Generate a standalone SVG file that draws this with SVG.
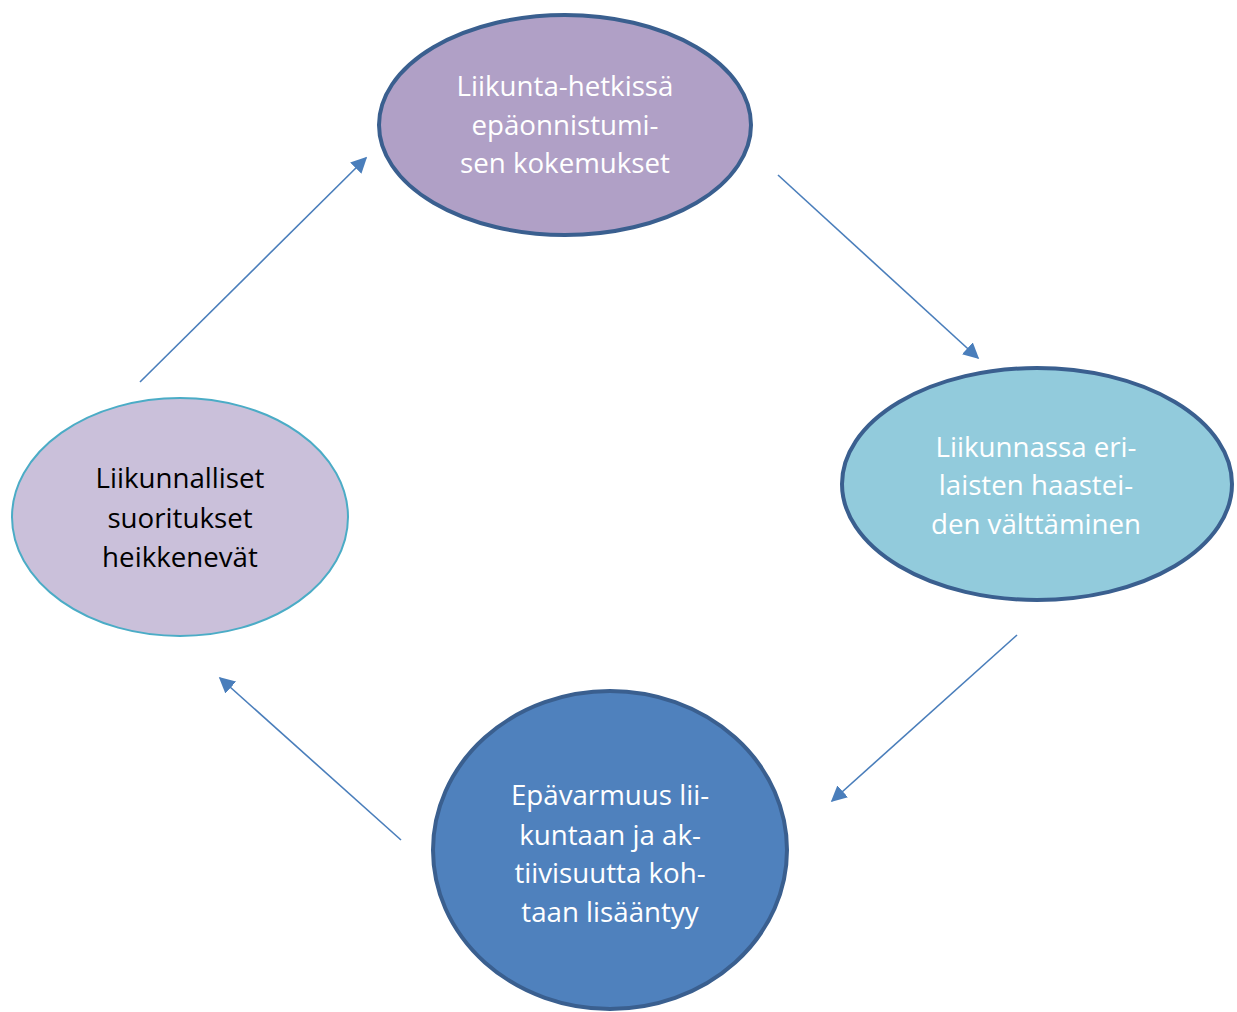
<svg xmlns="http://www.w3.org/2000/svg" width="1237" height="1012" viewBox="0 0 1237 1012">
<defs>
<style>
.lbl{font-family:"Open Sans","Noto Sans",sans-serif;font-size:27.7px;text-anchor:middle}
.w{fill:#ffffff}
.k{fill:#000000}
.con{stroke:#4A7EBB;stroke-width:1.6;fill:none}
</style>
<marker id="ah2" viewBox="0 0 10 10" refX="9" refY="5" markerWidth="16" markerHeight="16" markerUnits="userSpaceOnUse" orient="auto">
<path d="M0,0 L10,5 L0,10 z" fill="#4A7EBB"/>
</marker>
</defs>
<rect width="1237" height="1012" fill="#ffffff"/>
<g id="connectors">
<line class="con" x1="140" y1="382" x2="366" y2="158" marker-end="url(#ah2)"/>
<line class="con" x1="778" y1="175" x2="978" y2="358" marker-end="url(#ah2)"/>
<line class="con" x1="1017" y1="635" x2="832" y2="801" marker-end="url(#ah2)"/>
<line class="con" x1="401" y1="840" x2="220" y2="678" marker-end="url(#ah2)"/>
</g>
<g id="node-top">
<ellipse cx="565" cy="125" rx="186" ry="110" fill="#B0A0C6" stroke="#3A5F8F" stroke-width="4"/>
<text class="lbl w" x="565" y="96">Liikunta-hetkissä</text>
<text class="lbl w" x="565" y="135">epäonnistumi-</text>
<text class="lbl w" x="565" y="173">sen kokemukset</text>
</g>
<g id="node-right">
<ellipse cx="1037" cy="484" rx="195" ry="116" fill="#92CBDC" stroke="#3A5F8F" stroke-width="4"/>
<text class="lbl w" x="1036" y="457">Liikunnassa eri-</text>
<text class="lbl w" x="1036" y="495">laisten haastei-</text>
<text class="lbl w" x="1036" y="534">den välttäminen</text>
</g>
<g id="node-left">
<ellipse cx="180" cy="517" rx="168" ry="119" fill="#CAC0DA" stroke="#4BACC6" stroke-width="2"/>
<text class="lbl k" x="180" y="488">Liikunnalliset</text>
<text class="lbl k" x="180" y="528">suoritukset</text>
<text class="lbl k" x="180" y="567">heikkenevät</text>
</g>
<g id="node-bottom">
<ellipse cx="610" cy="850" rx="177" ry="159" fill="#4F81BD" stroke="#3A5F8F" stroke-width="4"/>
<text class="lbl w" x="610" y="805">Epävarmuus lii-</text>
<text class="lbl w" x="610" y="845">kuntaan ja ak-</text>
<text class="lbl w" x="610" y="883">tiivisuutta koh-</text>
<text class="lbl w" x="610" y="922">taan lisääntyy</text>
</g>
</svg>
